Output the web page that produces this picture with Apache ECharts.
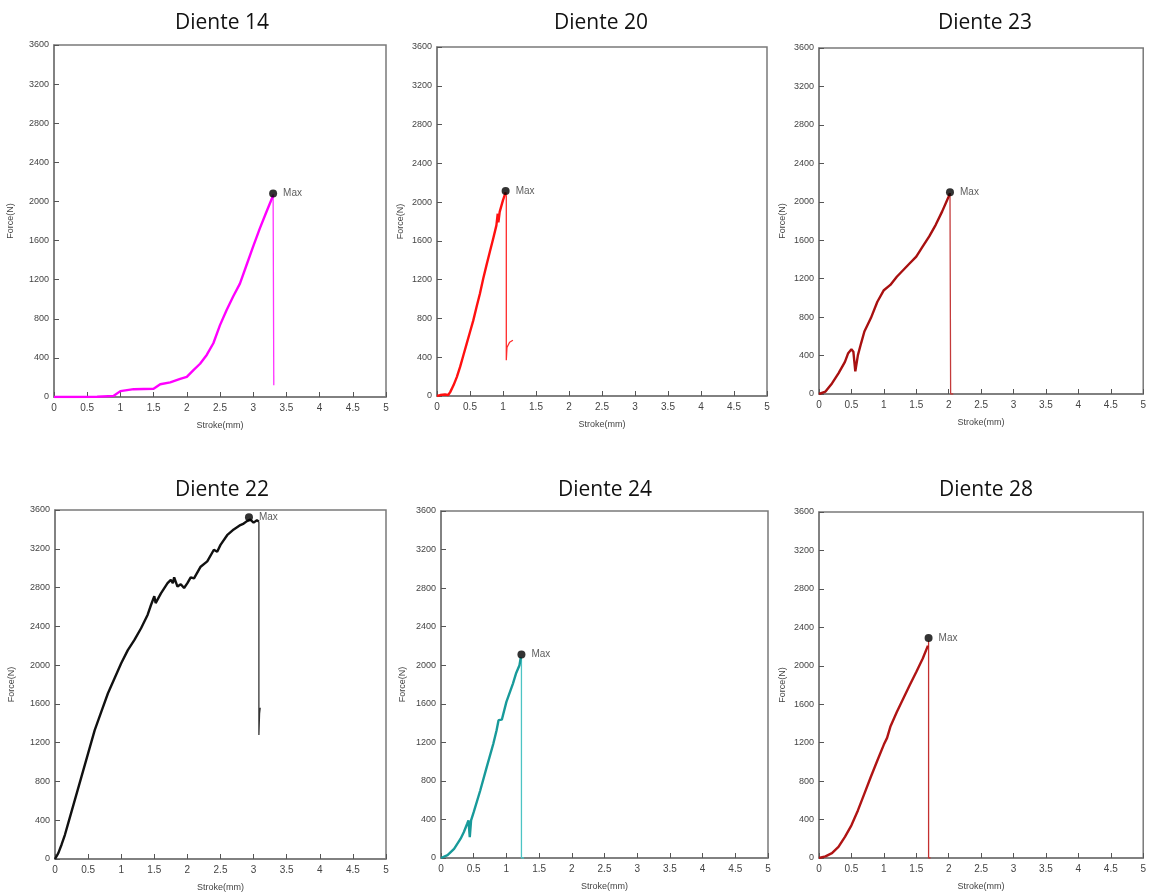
<!DOCTYPE html>
<html>
<head>
<meta charset="utf-8">
<script src="https://cdn.jsdelivr.net/npm/echarts@6/dist/echarts.min.js"></script>
<style>
html, body { margin: 0; padding: 0; background: #fff; }
#chart { width: 1149px; height: 896px; }
</style>
</head>
<body>
<div id="chart"></div>
<script>
// titulos de cada panel
var titles = ['Diente 14', 'Diente 20', 'Diente 23', 'Diente 22', 'Diente 24', 'Diente 28'];
var xTicks = [0, 0.5, 1, 1.5, 2, 2.5, 3, 3.5, 4, 4.5, 5];
var yTicks = [0, 400, 800, 1200, 1600, 2000, 2400, 2800, 3200, 3600];

// Diente 14
var x14 = [0, 0.3, 0.65, 0.9, 1.0, 1.2, 1.5, 1.6, 1.75, 1.9, 2.0, 2.1, 2.2, 2.3, 2.4, 2.5, 2.6, 2.7, 2.8, 2.9, 3.0, 3.1, 3.2, 3.3];
var y14 = [0, 0, 2, 12, 60, 80, 85, 130, 150, 185, 205, 275, 340, 430, 550, 735, 890, 1030, 1160, 1350, 1540, 1725, 1895, 2060];
var drop14X = [3.3, 3.31, 3.31];
var drop14Y = [2075, 120, 220];
var max14 = [3.3, 2080];

// Diente 20
var x20 = [0, 0.05, 0.08, 0.12, 0.17, 0.2, 0.25, 0.3, 0.35, 0.4, 0.45, 0.5, 0.55, 0.6, 0.65, 0.7, 0.75, 0.8, 0.85, 0.9, 0.92, 0.93, 0.95, 0.97, 1.0, 1.04];
var y20 = [0, 10, 25, 15, 10, 40, 110, 195, 300, 420, 540, 660, 780, 920, 1055, 1210, 1350, 1485, 1620, 1760, 1880, 1790, 1900, 1920, 2020, 2100];
var drop20X = [1.04, 1.05, 1.05, 1.06, 1.1, 1.15];
var drop20Y = [2100, 2060, 370, 500, 555, 575];
var max20 = [1.04, 2115];

// Diente 23
var x23 = [0, 0.1, 0.2, 0.3, 0.4, 0.45, 0.5, 0.53, 0.56, 0.6, 0.65, 0.7, 0.8, 0.9, 1.0, 1.1, 1.2, 1.3, 1.4, 1.5, 1.6, 1.7, 1.8, 1.9, 2.0, 2.02];
var y23 = [0, 25, 110, 215, 335, 425, 465, 440, 235, 405, 530, 650, 790, 960, 1080, 1135, 1220, 1290, 1360, 1430, 1535, 1640, 1760, 1900, 2055, 2090];
var drop23X = [2.02, 2.03, 2.05, 2.07];
var drop23Y = [2090, 0, 5, 0];
var max23 = [2.02, 2100];

// Diente 22
var x22 = [0, 0.05, 0.1, 0.15, 0.2, 0.3, 0.4, 0.5, 0.6, 0.7, 0.8, 0.9, 1.0, 1.1, 1.2, 1.3, 1.4, 1.45, 1.5, 1.52, 1.6, 1.7, 1.75, 1.78, 1.8, 1.85, 1.9, 1.95, 2.0, 2.05, 2.1, 2.2, 2.3, 2.4, 2.45, 2.5, 2.6, 2.7, 2.8, 2.85, 2.9, 2.95, 3.0, 3.05, 3.08];
var y22 = [0, 60, 150, 250, 370, 610, 850, 1090, 1330, 1520, 1710, 1865, 2020, 2155, 2260, 2380, 2520, 2620, 2710, 2640, 2740, 2845, 2880, 2845, 2905, 2810, 2835, 2795, 2845, 2905, 2895, 3015, 3070, 3190, 3170, 3240, 3340, 3400, 3445, 3460, 3485, 3500, 3470, 3495, 3480];
var drop22X = [3.08, 3.08, 3.09, 3.1, 3.1];
var drop22Y = [3480, 1280, 1500, 1520, 1560];
var max22 = [2.93, 3525];

// Diente 24
var x24 = [0, 0.1, 0.2, 0.3, 0.35, 0.4, 0.42, 0.44, 0.46, 0.5, 0.6, 0.7, 0.8, 0.85, 0.88, 0.9, 0.93, 1.0, 1.1, 1.15, 1.2, 1.22];
var y24 = [0, 30, 95, 200, 270, 355, 390, 215, 390, 475, 700, 945, 1185, 1325, 1430, 1420, 1435, 1620, 1810, 1920, 2000, 2080];
var drop24X = [1.23, 1.23, 1.25, 1.27];
var drop24Y = [2080, 0, 5, 0];
var max24 = [1.23, 2110];

// Diente 28
var x28 = [0, 0.1, 0.2, 0.3, 0.4, 0.5, 0.6, 0.7, 0.8, 0.9, 1.0, 1.02, 1.05, 1.1, 1.2, 1.3, 1.4, 1.5, 1.6, 1.68];
var y28 = [0, 17, 50, 115, 220, 340, 495, 670, 845, 1015, 1180, 1170, 1250, 1365, 1520, 1660, 1800, 1935, 2075, 2210];
var drop28X = [1.69, 1.69, 1.72];
var drop28Y = [2260, 0, 0];
var max28 = [1.69, 2290];

var zip = function (xs, ys) {
    var out = [];
    for (var i = 0; i < xs.length; i++) out.push([xs[i], ys[i]]);
    return out;
};

var panels = [
    { x: x14, y: y14, dx: drop14X, dy: drop14Y, m: max14, color: '#ff00ff', drop: '#ff33ff' },
    { x: x20, y: y20, dx: drop20X, dy: drop20Y, m: max20, color: '#ff1010', drop: '#ff2a2a' },
    { x: x23, y: y23, dx: drop23X, dy: drop23Y, m: max23, color: '#a81010', drop: '#c43a3a' },
    { x: x22, y: y22, dx: drop22X, dy: drop22Y, m: max22, color: '#111111', drop: '#333333' },
    { x: x24, y: y24, dx: drop24X, dy: drop24Y, m: max24, color: '#189a9a', drop: '#4cc4c4' },
    { x: x28, y: y28, dx: drop28X, dy: drop28Y, m: max28, color: '#b01414', drop: '#c43030' }
];

var grids = [
    { left: 54, top: 45, width: 332, height: 352 },
    { left: 437, top: 47, width: 330, height: 349 },
    { left: 819, top: 48, width: 325, height: 346 },
    { left: 55, top: 510, width: 331, height: 349 },
    { left: 441, top: 511, width: 327, height: 347 },
    { left: 819, top: 512, width: 325, height: 346 }
];
var titlePos = [[217, 8], [596, 8], [980, 8], [217, 475], [600, 475], [981, 475]];
var yNameGap = [39, 32, 32, 39, 34, 32];

var initChart = function () {
    var chart = echarts.init(document.getElementById('chart'));
    var option = {
        backgroundColor: '#fff',
        animation: false,
        title: [],
        grid: [],
        xAxis: [],
        yAxis: [],
        series: []
    };
    for (var i = 0; i < 6; i++) {
        var g = grids[i];
        var p = panels[i];
        option.title.push({
            text: titles[i],
            left: titlePos[i][0],
            top: titlePos[i][1],
            textAlign: 'center',
            textStyle: { fontFamily: 'Open Sans', fontSize: 21, fontWeight: 'normal', color: '#111' }
        });
        option.grid.push({
            left: g.left, top: g.top, width: g.width, height: g.height,
            show: true, borderColor: '#7a7a7a', borderWidth: 1.5, backgroundColor: '#fff'
        });
        option.xAxis.push({
            type: 'value', gridIndex: i,
            min: xTicks[0], max: xTicks[xTicks.length - 1], interval: 0.5,
            name: 'Stroke(mm)', nameLocation: 'middle', nameGap: 24,
            nameTextStyle: { fontFamily: 'Liberation Sans', fontSize: 9, color: '#444' },
            axisLine: { show: true, lineStyle: { color: '#7a7a7a', width: 1.5 } },
            axisTick: { show: true, inside: true, length: 5, lineStyle: { color: '#555' } },
            axisLabel: { fontFamily: 'Liberation Sans', fontSize: 10, color: '#444', margin: 6 },
            splitLine: { show: false }
        });
        option.yAxis.push({
            type: 'value', gridIndex: i,
            min: yTicks[0], max: yTicks[yTicks.length - 1], interval: 400,
            name: 'Force(N)', nameLocation: 'middle', nameGap: yNameGap[i],
            nameTextStyle: { fontFamily: 'Liberation Sans', fontSize: 9, color: '#444' },
            axisLine: { show: true, lineStyle: { color: '#7a7a7a', width: 1.5 } },
            axisTick: { show: true, inside: true, length: 5, lineStyle: { color: '#555' } },
            axisLabel: {
                fontFamily: 'Liberation Sans', fontSize: 9, color: '#444', margin: 5,
                formatter: function (v) { return String(v); }
            },
            splitLine: { show: false }
        });
        option.series.push({
            type: 'line', xAxisIndex: i, yAxisIndex: i,
            data: zip(p.x, p.y), showSymbol: false,
            lineStyle: { color: p.color, width: 2.4 }, z: 3
        });
        option.series.push({
            type: 'line', xAxisIndex: i, yAxisIndex: i,
            data: zip(p.dx, p.dy), showSymbol: false,
            lineStyle: { color: p.drop, width: 1.3 }, z: 2
        });
        option.series.push({
            type: 'scatter', xAxisIndex: i, yAxisIndex: i,
            data: [p.m], symbolSize: 8,
            itemStyle: { color: '#000' },
            label: {
                show: true, position: 'right', distance: 6, formatter: 'Max',
                fontFamily: 'Liberation Sans', fontSize: 10, color: '#333'
            },
            z: 5
        });
    }
    chart.setOption(option);
};

initChart();
</script>
</body>
</html>
